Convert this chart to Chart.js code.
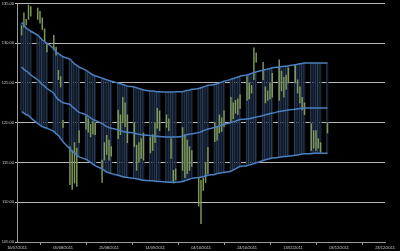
<!DOCTYPE html>
<html>
<head>
<meta charset="utf-8">
<script src="https://cdn.jsdelivr.net/npm/chart.js@4.4.0/dist/chart.umd.min.js"></script>
<style>
  html, body { margin: 0; padding: 0; background: #000; }
  canvas { display: block; }
</style>
</head>
<body>
<canvas id="chart" width="400" height="251"></canvas>
<script>
// trading days (dd/mm, all 2011)
const year = 2011;
const dates = [
  "18/07","19/07","20/07","21/07","22/07",
  "25/07","26/07","27/07","28/07","29/07",
  "01/08","02/08","03/08","04/08","05/08",
  "08/08","09/08","10/08","11/08","12/08",
  "15/08","16/08","17/08","18/08","19/08",
  "22/08","23/08","24/08","25/08","26/08",
  "29/08","30/08","31/08","01/09","02/09",
  "05/09","06/09","07/09","08/09","09/09",
  "12/09","13/09","14/09","15/09","16/09",
  "19/09","20/09","21/09","22/09","23/09",
  "26/09","27/09","28/09","29/09","30/09",
  "03/10","04/10","05/10","06/10","07/10",
  "10/10","11/10","12/10","13/10","14/10",
  "17/10","18/10","19/10","20/10","21/10",
  "24/10","25/10","26/10","27/10","28/10",
  "31/10","01/11","02/11","03/11","04/11",
  "07/11","08/11","09/11","10/11","11/11",
  "14/11","15/11","16/11","17/11","18/11",
  "21/11","22/11","23/11","24/11","25/11",
  "28/11"
];

const highs = [
  132.2, 133.8, 133.0, 134.8, 134.6,
  134.4, 134.0, 133.2, 131.8, 130.0,
  131.0, 129.5, 126.6, 125.8, 120.3,
  117.0, 116.5, 117.5, 116.8, 119.0,
  120.8, 120.5, 119.8, 120.2, 120.0,
  115.3, 117.5, 118.4, 117.8, 117.0,
  121.6, 121.0, 123.2, 122.5, 121.0,
  120.0, 117.2, 117.5, 118.0, 118.7,
  118.2, 118.5, 120.0, 121.8, 121.5,
  121.0, 120.5, 118.0, 114.0, 114.2,
  119.4, 118.5, 117.8, 117.0, 116.5,
  113.0, 112.8, 113.0, 115.0, 116.9,
  120.0, 119.5, 121.0, 120.6, 121.5,
  123.2, 122.5, 122.8, 123.0, 123.5,
  125.8, 125.0, 124.7, 129.4, 128.8,
  127.6, 124.5, 124.0, 125.0, 126.2,
  127.9, 126.5, 125.7, 126.0, 126.9,
  127.3, 125.4, 124.5, 123.2, 122.5,
  119.9, 119.0, 119.0, 118.0, 117.5,
  120.0
];

const lows = [
  131.0, 132.0, 132.3, 133.0, 133.4,
  133.0, 132.5, 131.7, 130.3, 128.9,
  129.2, 128.5, 125.4, 124.5, 119.4,
  112.2, 111.6, 112.4, 112.0, 117.5,
  119.2, 118.8, 118.2, 118.6, 118.5,
  112.5, 115.3, 116.0, 115.3, 115.8,
  118.0, 118.5, 120.0, 119.5, 117.5,
  117.0, 114.0, 115.0, 115.5, 115.3,
  116.2, 116.5, 117.5, 119.3, 119.0,
  119.4, 119.0, 115.5, 112.4, 112.8,
  114.0, 113.1, 113.6, 114.0, 114.5,
  109.5, 107.3, 111.5, 112.5, 113.6,
  117.6, 117.8, 118.7, 118.9, 119.5,
  120.0, 120.5, 121.2, 121.0, 121.8,
  122.8, 123.0, 123.7, 125.4, 127.6,
  125.4, 122.5, 122.8, 123.0, 123.2,
  122.8, 124.0, 123.2, 124.2, 125.0,
  125.0, 123.7, 122.5, 121.6, 121.0,
  116.5, 116.8, 116.5, 116.8, 116.3,
  118.7
];

const upperBand = [
  132.6, 132.3, 131.9, 131.7, 131.5,
  131.0, 130.7, 130.4, 130.2, 130.0,
  129.3, 128.9, 128.7, 128.5, 128.3,
  128.0, 127.7, 127.4, 127.2, 127.0,
  126.6, 126.4, 126.2, 126.0, 125.9,
  125.6, 125.5, 125.4, 125.3, 125.2,
  125.0, 124.9, 124.8, 124.7, 124.6,
  124.5, 124.4, 124.3, 124.2, 124.1,
  124.0, 124.0, 123.95, 123.9, 123.9,
  123.85, 123.85, 123.85, 123.85, 123.9,
  123.9, 124.0, 124.05, 124.1, 124.2,
  124.3, 124.4, 124.5, 124.6, 124.7,
  124.8, 124.9, 125.0, 125.1, 125.2,
  125.45, 125.55, 125.65, 125.75, 125.85,
  126.0, 126.1, 126.2, 126.3, 126.4,
  126.6, 126.7, 126.75, 126.8, 126.9,
  127.0, 127.05, 127.1, 127.1, 127.15,
  127.3, 127.35, 127.4, 127.45, 127.5,
  127.5, 127.5, 127.5, 127.5, 127.5,
  127.5
];

const middleBand = [
  127.0, 126.7, 126.5, 126.3, 126.0,
  125.4, 125.1, 124.8, 124.6, 124.3,
  123.7, 123.2, 122.9, 122.7, 122.5,
  122.3, 122.0, 121.8, 121.5, 121.3,
  121.0, 120.8, 120.6, 120.4, 120.3,
  119.9, 119.7, 119.5, 119.4, 119.3,
  119.1, 119.0, 118.9, 118.85, 118.8,
  118.7, 118.6, 118.55, 118.5, 118.45,
  118.4, 118.35, 118.3, 118.3, 118.25,
  118.2, 118.2, 118.2, 118.2, 118.2,
  118.3, 118.4, 118.5, 118.55, 118.6,
  118.75, 118.85, 119.0, 119.1, 119.2,
  119.4, 119.5, 119.6, 119.7, 119.8,
  120.0, 120.1, 120.2, 120.3, 120.4,
  120.45, 120.5, 120.55, 120.65, 120.7,
  120.9, 121.0, 121.05, 121.15, 121.2,
  121.4, 121.45, 121.5, 121.55, 121.6,
  121.7, 121.75, 121.8, 121.8, 121.85,
  121.85, 121.85, 121.85, 121.85, 121.85,
  121.85
];

const lowerBand = [
  121.4, 121.2, 121.0, 120.9, 120.6,
  119.9, 119.7, 119.5, 119.4, 119.3,
  118.9, 118.6, 118.4, 118.0, 117.6,
  116.7, 116.4, 116.2, 115.9, 115.7,
  115.4, 115.2, 115.0, 114.8, 114.6,
  114.2, 114.0, 113.8, 113.7, 113.6,
  113.4, 113.3, 113.2, 113.15, 113.1,
  113.0, 112.95, 112.9, 112.8, 112.75,
  112.7, 112.7, 112.65, 112.6, 112.6,
  112.55, 112.5, 112.5, 112.5, 112.5,
  112.6, 112.7, 112.8, 112.9, 113.0,
  113.1, 113.15, 113.2, 113.3, 113.4,
  113.5, 113.6, 113.65, 113.7, 113.75,
  113.9, 114.05, 114.2, 114.35, 114.5,
  114.6, 114.7, 114.75, 114.85, 114.95,
  115.25, 115.35, 115.4, 115.5, 115.55,
  115.65, 115.7, 115.75, 115.75, 115.8,
  115.9, 115.95, 116.0, 116.05, 116.1,
  116.1, 116.15, 116.15, 116.15, 116.15,
  116.17
];

// x axis runs in days from 16/07/2011, labelled every 20 days
const axisStart = Date.UTC(year, 6, 16);
const DAY = 86400000;

function toDay(s) {
  const [d, m] = s.split("/").map(Number);
  return (Date.UTC(year, m - 1, d) - axisStart) / DAY;
}

function dayLabel(n) {
  const dt = new Date(axisStart + n * DAY);
  const dd = String(dt.getUTCDate()).padStart(2, "0");
  const mm = String(dt.getUTCMonth() + 1).padStart(2, "0");
  return dd + "/" + mm + "/" + dt.getUTCFullYear();
}

const days = dates.map(toDay);
const asPoints = arr => arr.map((v, i) => ({ x: days[i], y: v }));

const bandLine = (label, values) => ({
  type: "line",
  label: label,
  data: asPoints(values),
  borderColor: "#4a80c2",
  borderWidth: 1.5,
  pointRadius: 0,
  tension: 0.3,
  order: 0
});

const ctx = document.getElementById("chart");
new Chart(ctx, {
  type: "bar",
  data: {
    datasets: [
      bandLine("Upper", upperBand),
      bandLine("Middle", middleBand),
      bandLine("Lower", lowerBand),
      {
        label: "High/Low",
        data: days.map((x, i) => ({ x: x, y: [lows[i], highs[i]] })),
        backgroundColor: "#7f9a58",
        barThickness: 0.8,
        grouped: false,
        order: 1
      },
      {
        label: "Band",
        data: days.map((x, i) => ({ x: x, y: [lowerBand[i], upperBand[i]] })),
        backgroundColor: "#131c2a",
        borderColor: "#2c4060",
        borderWidth: { left: 1, right: 0, top: 0, bottom: 0 },
        borderSkipped: false,
        barThickness: 2,
        grouped: false,
        order: 2
      }
    ]
  },
  options: {
    responsive: false,
    animation: false,
    layout: { padding: { top: 3, right: 15, left: 0, bottom: 0 } },
    plugins: { legend: { display: false }, tooltip: { enabled: false } },
    scales: {
      x: {
        type: "linear",
        min: 0,
        max: 160,
        offset: false,
        grid: { drawOnChartArea: false, color: "#9a9a9a", tickLength: 3 },
        border: { color: "#9a9a9a" },
        ticks: {
          stepSize: 20,
          autoSkip: false,
          maxRotation: 0,
          padding: 0,
          color: "#d0d0d0",
          font: { family: "Liberation Sans", size: 4 },
          callback: v => dayLabel(v)
        },
        afterFit: scale => { scale.height = 9; }
      },
      y: {
        min: 105,
        max: 135,
        grid: { color: "#b8b8b8", tickLength: 2 },
        border: { color: "#9a9a9a" },
        ticks: {
          stepSize: 5,
          padding: 1,
          color: "#d0d0d0",
          font: { family: "Liberation Sans", size: 4 },
          callback: v => v.toFixed(2)
        },
        afterFit: scale => { scale.width = 17; }
      }
    }
  }
});
</script>
</body>
</html>
